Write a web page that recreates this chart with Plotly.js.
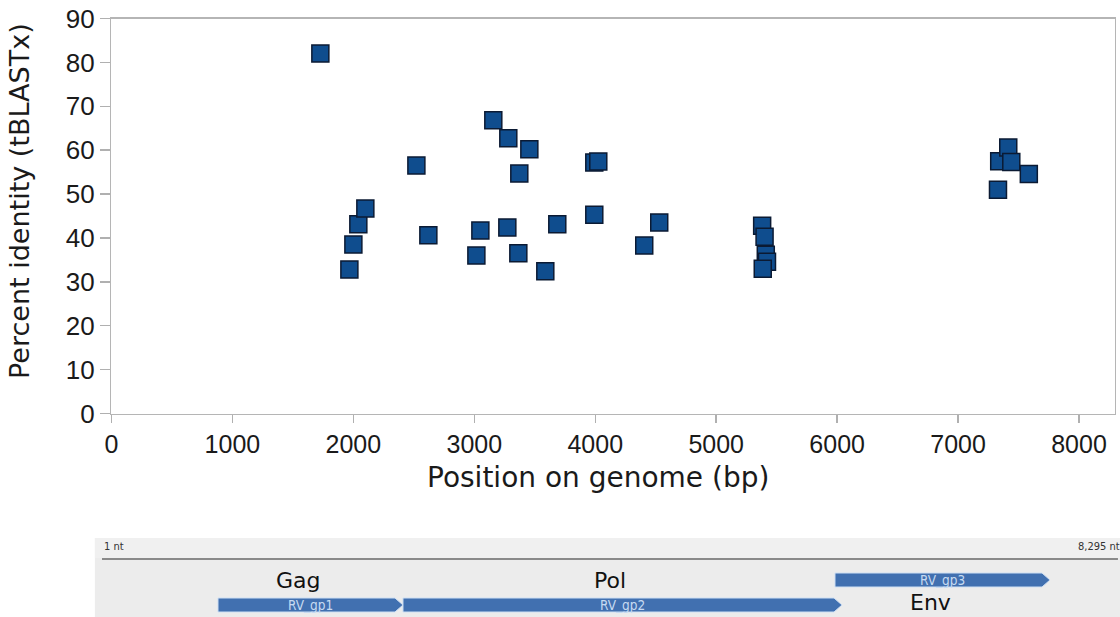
<!DOCTYPE html>
<html>
<head>
<meta charset="utf-8">
<script src="https://cdn.plot.ly/plotly-3.0.1.min.js"></script>
<style>html,body{margin:0;padding:0;background:#fff;}#chart{width:1120px;height:617px;}</style>
</head>
<body>
<div id="chart"></div>
<script>
// Scatter data: position on genome (bp) and percent identity (tBLASTx)
var positions = [1727, 1967, 2000, 2041, 2099, 2521, 2620, 3017, 3050, 3157, 3281, 3273, 3372, 3364, 3455, 3587, 3686, 3992, 4025, 3992, 4405, 4529, 5380, 5400, 5410, 5420, 5385, 7330, 7340, 7415, 7440, 7585];
var identity  = [82.0, 32.8, 38.5, 43.1, 46.7, 56.5, 40.6, 36.0, 41.7, 66.8, 62.7, 42.4, 54.7, 36.5, 60.2, 32.4, 43.1, 57.2, 57.4, 45.3, 38.3, 43.5, 42.8, 40.3, 36.2, 34.6, 33.0, 51.0, 57.5, 60.6, 57.3, 54.6];

// Genome map
var genomeLength = 8295;
var geneIds    = ["RV_gp1", "RV_gp2", "RV_gp3"];
var geneStarts = [948, 2458, 5985];
var geneEnds   = [2458, 6042, 7740];
var geneRows   = [1, 1, 0];           // 0 = upper row, 1 = lower row
var proteinNames = ["Gag", "Pol", "Env"];
var proteinRows  = [0, 0, 1];

var xTickVals = [0, 1000, 2000, 3000, 4000, 5000, 6000, 7000, 8000];
var yTickVals = [0, 10, 20, 30, 40, 50, 60, 70, 80, 90];

var trace = {
  type: 'scatter', mode: 'markers',
  x: positions, y: identity,
  xaxis: 'x', yaxis: 'y',
  marker: {symbol: 'square', size: 17, color: '#0f4d8e', line: {color: '#0b1a33', width: 1.5}},
  hoverinfo: 'x+y', showlegend: false
};

// layout geometry for genome map rows (in y2 units = px from top of panel)
var rowTop = [35, 60], rowH = 14, tipNt = 65;
var labelRowY = [42, 64];

var shapes = [
  {type: 'rect', xref: 'paper', yref: 'paper', x0: -0.005, x1: 1, y0: 0, y1: 0.128,
   fillcolor: '#ececec', line: {width: 0}, layer: 'below'},
  {type: 'rect', xref: 'paper', yref: 'y2', x0: -0.005, x1: 1, y0: 0, y1: 20,
   fillcolor: '#f0f0f0', line: {width: 0}, layer: 'below'},
  {type: 'line', xref: 'x2', yref: 'y2', x0: 1, x1: genomeLength, y0: 21, y1: 21,
   line: {color: '#8a8a8a', width: 2}}
];
var annotations = [
  {xref: 'x2', yref: 'y2', x: 1, y: 8, text: '1 nt', showarrow: false, xanchor: 'left', yanchor: 'middle',
   font: {family: 'DejaVu Sans Condensed, DejaVu Sans', size: 11, color: '#333'}},
  {xref: 'x2', yref: 'y2', x: genomeLength, y: 8, text: '8,295 nt', showarrow: false, xanchor: 'right', yanchor: 'middle',
   font: {family: 'DejaVu Sans Condensed, DejaVu Sans', size: 11, color: '#333'}, xshift: 4},
  {xref: 'paper', yref: 'paper', x: (19 - 100) / 1020, y: (617 - 201) / 617, text: 'Percent identity (tBLASTx)',
   textangle: -90, showarrow: false, xanchor: 'center', yanchor: 'middle',
   font: {family: 'DejaVu Sans', size: 27, color: '#1a1a1a'}},
  {xref: 'paper', yref: 'paper', x: (598 - 100) / 1020, y: (617 - 477) / 617, text: 'Position on genome (bp)',
   showarrow: false, xanchor: 'center', yanchor: 'middle',
   font: {family: 'DejaVu Sans', size: 28, color: '#1a1a1a'}}
];

for (var i = 0; i < geneIds.length; i++) {
  var s = geneStarts[i], e = geneEnds[i];
  var y0 = rowTop[geneRows[i]], y1 = y0 + rowH, ym = (y0 + y1) / 2;
  var t = e - tipNt;
  shapes.push({type: 'path', xref: 'x2', yref: 'y2',
    path: 'M' + s + ',' + y0 + ' L' + t + ',' + y0 + ' L' + e + ',' + ym + ' L' + t + ',' + y1 + ' L' + s + ',' + y1 + ' Z',
    fillcolor: '#4170b0', line: {color: '#cfe0f4', width: 1}});
  annotations.push({xref: 'x2', yref: 'y2', x: (s + e) / 2, y: ym, text: geneIds[i], showarrow: false,
    xanchor: 'center', yanchor: 'middle', font: {family: 'DejaVu Sans Condensed, DejaVu Sans', size: 13.5, color: '#c6daf2'}});
  var pr = proteinRows[i];
  annotations.push({xref: 'x2', yref: 'y2', x: (s + e) / 2, y: labelRowY[pr], text: proteinNames[i], showarrow: false,
    xanchor: 'center', yanchor: 'middle', xshift: -12, font: {family: 'DejaVu Sans', size: 22, color: '#111'}});
}

var layout = {
  width: 1120, height: 617,
  margin: {l: 100, r: 0, t: 0, b: 0, pad: 0},
  paper_bgcolor: '#ffffff', plot_bgcolor: '#ffffff',
  showlegend: false,
  xaxis: {domain: [0.01127, 0.9948], range: [0, 8295], anchor: 'y',
    tickvals: xTickVals, ticks: 'outside', ticklen: 8, tickcolor: '#b0b0b0', tickwidth: 1.5,
    showgrid: false, zeroline: false, showline: true, mirror: true, linecolor: '#b5b5b5', linewidth: 1.5,
    tickfont: {family: 'Liberation Sans, Arial', size: 25, color: '#1a1a1a'}},
  yaxis: {domain: [0.3298, 0.9700], range: [0, 90], anchor: 'x',
    tickvals: yTickVals, ticks: 'outside', ticklen: 10, tickcolor: '#b0b0b0', tickwidth: 1.5,
    showgrid: false, zeroline: false, showline: true, mirror: true, linecolor: '#b5b5b5', linewidth: 1.5,
    tickfont: {family: 'Liberation Sans, Arial', size: 26, color: '#1a1a1a'}},
  xaxis2: {domain: [0.00196, 0.998], range: [1, genomeLength], anchor: 'y2', visible: false, fixedrange: true},
  yaxis2: {domain: [0, 0.128], range: [79, 0], anchor: 'x2', visible: false, fixedrange: true},
  shapes: shapes,
  annotations: annotations
};

Plotly.newPlot('chart', [trace], layout, {displayModeBar: false, staticPlot: true});
</script>
</body>
</html>
